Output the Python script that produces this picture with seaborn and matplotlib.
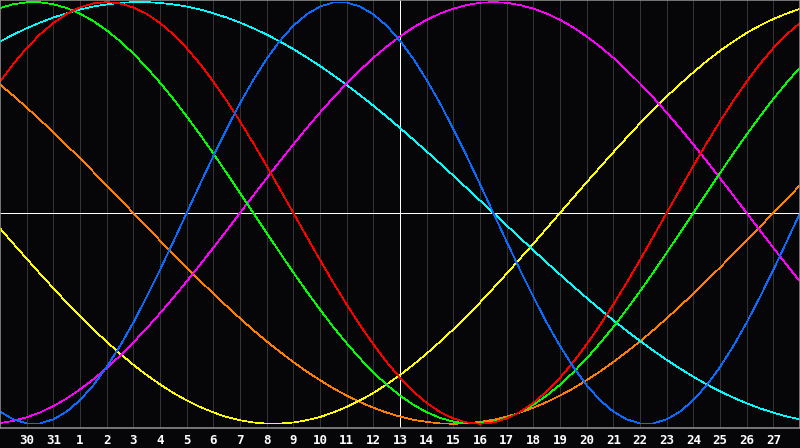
import matplotlib
matplotlib.use("Agg")
import matplotlib.pyplot as plt
import seaborn as sns
import pandas as pd

# day labels for grid positions 0..30 (29th of previous month .. 28th)
days = ["29", "30", "31", "1", "2", "3", "4", "5", "6", "7", "8", "9", "10",
        "11", "12", "13", "14", "15", "16", "17", "18", "19", "20", "21", "22",
        "23", "24", "25", "26", "27", "28"]

# readings every half day, from position 0 to 30
steps = [p / 2 for p in range(61)]

physical = [-0.942, -0.979, -0.998, -0.998, -0.979, -0.942, -0.888, -0.817, -0.731, -0.631,
            -0.520, -0.398, -0.270, -0.136, 0.0, 0.136, 0.270, 0.398, 0.520, 0.631,
            0.731, 0.817, 0.888, 0.942, 0.979, 0.998, 0.998, 0.979, 0.942, 0.888,
            0.817, 0.731, 0.631, 0.520, 0.398, 0.270, 0.136, 0.0, -0.136, -0.270,
            -0.398, -0.520, -0.631, -0.731, -0.817, -0.888, -0.942, -0.979, -0.998, -0.998,
            -0.979, -0.942, -0.888, -0.817, -0.731, -0.631, -0.520, -0.398, -0.270, -0.136,
            0.0]
emotional = [0.623, 0.707, 0.782, 0.847, 0.901, 0.944, 0.975, 0.994, 1.0, 0.994,
             0.975, 0.944, 0.901, 0.847, 0.782, 0.707, 0.623, 0.532, 0.434, 0.331,
             0.223, 0.112, 0.0, -0.112, -0.223, -0.331, -0.434, -0.532, -0.623, -0.707,
             -0.782, -0.847, -0.901, -0.944, -0.975, -0.994, -1.0, -0.994, -0.975, -0.944,
             -0.901, -0.847, -0.782, -0.707, -0.623, -0.532, -0.434, -0.331, -0.223, -0.112,
             0.0, 0.112, 0.223, 0.331, 0.434, 0.532, 0.623, 0.707, 0.782, 0.847,
             0.901]
intellectual = [0.972, 0.990, 0.999, 0.999, 0.990, 0.972, 0.945, 0.910, 0.866, 0.815,
                0.756, 0.690, 0.618, 0.541, 0.458, 0.372, 0.282, 0.189, 0.095, 0.0,
                -0.095, -0.189, -0.282, -0.372, -0.458, -0.541, -0.618, -0.690, -0.756, -0.815,
                -0.866, -0.910, -0.945, -0.972, -0.990, -0.999, -0.999, -0.990, -0.972, -0.945,
                -0.910, -0.866, -0.815, -0.756, -0.690, -0.618, -0.541, -0.458, -0.372, -0.282,
                -0.189, -0.095, 0.0, 0.095, 0.189, 0.282, 0.372, 0.458, 0.541, 0.618,
                0.690]
intuitive = [-0.997, -0.986, -0.969, -0.946, -0.916, -0.880, -0.837, -0.789, -0.736, -0.677,
             -0.614, -0.547, -0.476, -0.402, -0.325, -0.246, -0.165, -0.083, 0.0, 0.083,
             0.165, 0.246, 0.325, 0.402, 0.476, 0.547, 0.614, 0.677, 0.736, 0.789,
             0.837, 0.880, 0.916, 0.946, 0.969, 0.986, 0.997, 1.0, 0.997, 0.986,
             0.969, 0.946, 0.916, 0.880, 0.837, 0.789, 0.736, 0.677, 0.614, 0.547,
             0.476, 0.402, 0.325, 0.246, 0.165, 0.083, 0.0, -0.083, -0.165, -0.246,
             -0.325]
aesthetic = [-0.073, -0.146, -0.217, -0.288, -0.357, -0.425, -0.489, -0.552, -0.611, -0.667,
             -0.720, -0.769, -0.813, -0.854, -0.889, -0.920, -0.946, -0.968, -0.983, -0.994,
             -0.999, -0.999, -0.994, -0.983, -0.968, -0.946, -0.920, -0.889, -0.854, -0.813,
             -0.769, -0.720, -0.667, -0.611, -0.552, -0.489, -0.425, -0.357, -0.288, -0.217,
             -0.146, -0.073, 0.0, 0.073, 0.146, 0.217, 0.288, 0.357, 0.425, 0.489,
             0.552, 0.611, 0.667, 0.720, 0.769, 0.813, 0.854, 0.889, 0.920, 0.946,
             0.968]
awareness = [0.609, 0.556, 0.5, 0.442, 0.383, 0.321, 0.259, 0.195, 0.131, 0.065,
             0.0, -0.065, -0.131, -0.195, -0.259, -0.321, -0.383, -0.442, -0.5, -0.556,
             -0.609, -0.659, -0.707, -0.752, -0.793, -0.832, -0.866, -0.897, -0.924, -0.947,
             -0.966, -0.981, -0.991, -0.998, -1.0, -0.998, -0.991, -0.981, -0.966, -0.947,
             -0.924, -0.897, -0.866, -0.832, -0.793, -0.752, -0.707, -0.659, -0.609, -0.556,
             -0.5, -0.442, -0.383, -0.321, -0.259, -0.195, -0.131, -0.065, 0.0, 0.065,
             0.131]
spiritual = [0.813, 0.846, 0.876, 0.903, 0.927, 0.947, 0.965, 0.979, 0.989, 0.996,
             1.0, 1.0, 0.996, 0.989, 0.979, 0.965, 0.947, 0.927, 0.903, 0.876,
             0.846, 0.813, 0.777, 0.738, 0.697, 0.653, 0.607, 0.559, 0.509, 0.457,
             0.403, 0.348, 0.292, 0.235, 0.177, 0.118, 0.059, 0.0, -0.059, -0.118,
             -0.177, -0.235, -0.292, -0.348, -0.403, -0.457, -0.509, -0.559, -0.607, -0.653,
             -0.697, -0.738, -0.777, -0.813, -0.846, -0.876, -0.903, -0.927, -0.947, -0.965,
             -0.979]

cycles = {
    "awareness": awareness,
    "aesthetic": aesthetic,
    "spiritual": spiritual,
    "intuitive": intuitive,
    "intellectual": intellectual,
    "emotional": emotional,
    "physical": physical,
}
colors = {
    "physical": "#0a6cff",
    "emotional": "#ff0000",
    "intellectual": "#00ff00",
    "intuitive": "#ff00ff",
    "aesthetic": "#ffff00",
    "awareness": "#ff8000",
    "spiritual": "#00ffff",
}

rows = []
for name, vals in cycles.items():
    for x, v in zip(steps, vals):
        rows.append({"pos": x, "value": v, "cycle": name})
df = pd.DataFrame(rows)

bg = "#060608"
sns.set_theme(style="dark", rc={"axes.facecolor": bg, "figure.facecolor": bg})

fig = plt.figure(figsize=(8, 4.48), dpi=100)
ax = fig.add_axes([0, 20 / 448, 1, 428 / 448])

sns.lineplot(data=df, x="pos", y="value", hue="cycle", palette=colors,
             hue_order=list(cycles.keys()), legend=False, estimator=None,
             sort=False, linewidth=0.5, antialiased=False, ax=ax)

ax.set_xlim(0, 30)
ax.set_ylim(-1.02, 1.01)
tick_pos = list(range(1, 30))
ax.set_xticks(tick_pos)
ax.set_xticklabels(days[1:30], color="white", fontsize=9, fontweight="bold",
                   family="DejaVu Sans Mono")
ax.set_yticks([])
ax.tick_params(axis="x", length=0, pad=4)
ax.set_xlabel("")
ax.set_ylabel("")

for p in tick_pos:
    ax.axvline(p, color="#333333", linewidth=0.6, antialiased=False, zorder=0.5)
ax.axvline(15, color="white", linewidth=0.6, antialiased=False, zorder=1)
ax.axhline(0, color="white", linewidth=0.6, antialiased=False, zorder=1)

for s in ax.spines.values():
    s.set_visible(True)
    s.set_color("#8a8a8a")
    s.set_linewidth(1.2)

fig.savefig("out.png", dpi=100, facecolor=bg)
